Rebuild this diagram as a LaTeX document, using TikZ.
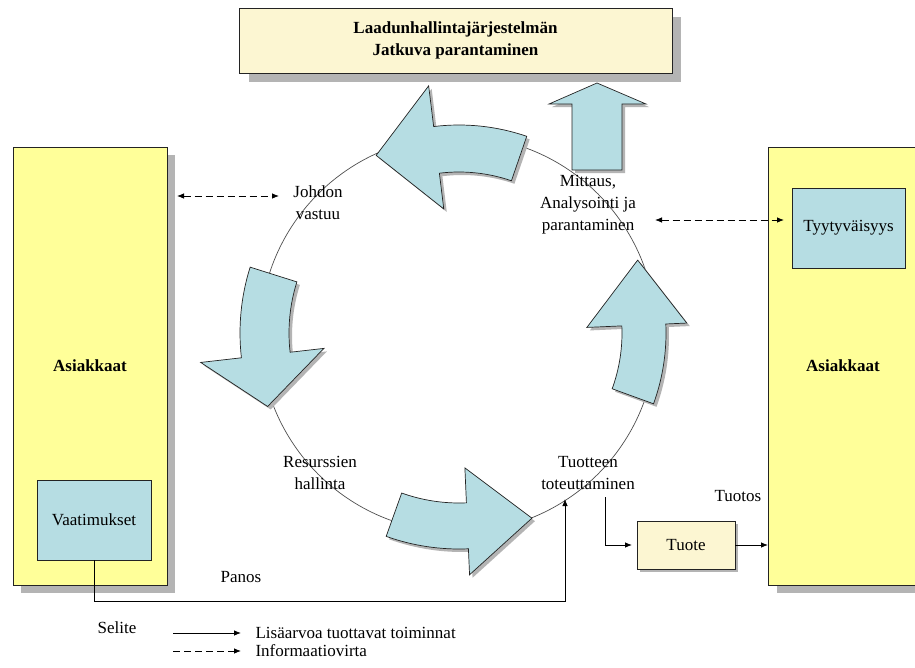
\documentclass[tikz,border=0pt]{standalone}
\usepackage{fontspec}
\setmainfont{Liberation Serif}
\usetikzlibrary{arrows.meta}
\definecolor{yel}{RGB}{255,255,153}
\definecolor{cream}{RGB}{252,246,210}
\definecolor{lblue}{RGB}{182,221,227}
\definecolor{shgray}{RGB}{180,180,180}
\definecolor{edgec}{RGB}{35,35,35}
% curved block arrow: tail angle, base angle, tip angle, r_in, r_out, wing in, wing out, tip radius
\newcommand\arcarrow[8]{%
  \fill[shgray,shift={(3,-3)}] (#1:#5) arc[start angle=#1,end angle=#2,radius=#5] -- (#2:#7) -- (#3:#8) -- (#2:#6) -- (#2:#4) arc[start angle=#2,end angle=#1,radius=#4] -- cycle;
  \draw[blockarrow] (#1:#5) arc[start angle=#1,end angle=#2,radius=#5] -- (#2:#7) -- (#3:#8) -- (#2:#6) -- (#2:#4) arc[start angle=#2,end angle=#1,radius=#4] -- cycle;}
\begin{document}
\begin{tikzpicture}[x=1pt,y=-1pt,
  font=\fontsize{17}{22}\selectfont,
  box/.style={draw=edgec,line width=0.8pt,inner sep=0pt,outer sep=0pt},
  blockarrow/.style={draw=edgec,fill=lblue,line width=0.7pt,line join=miter},
  conn/.style={line width=0.8pt,-{Latex[length=7pt,width=5.5pt]}},
  info/.style={line width=0.8pt,dash pattern=on 7pt off 4pt,{Latex[length=7pt,width=5.5pt]}-{Latex[length=7pt,width=5.5pt]}},
  shadowbox/.style={fill=shgray,draw=none}]
\useasboundingbox (0,0) rectangle (915,667);
\clip (0,0) rectangle (915,667);
\fill[white] (0,0) rectangle (915,667);

% shadows of boxes
\fill[shadowbox] (249,17) rectangle (681,82);
\fill[shadowbox] (21,155) rectangle (175,593);
\fill[shadowbox] (777,155) rectangle (930,593);
\fill[shadowbox] (640,524) rectangle (738,572);

% boxes
\node[box,fill=cream,minimum width=433pt,minimum height=65pt,align=center] (top) at (455.5,40.5)
  {\textbf{Laadunhallintajärjestelmän}\\\textbf{Jatkuva parantaminen}};
\node[box,fill=yel,minimum width=154pt,minimum height=438pt] (asL) at (90,366) {\textbf{Asiakkaat}};
\node[box,fill=yel,minimum width=150pt,minimum height=438pt] (asR) at (843,366) {\textbf{Asiakkaat}};
\node[box,fill=lblue,minimum width=114pt,minimum height=80pt] (vaat) at (94,520) {Vaatimukset};
\node[box,fill=lblue,minimum width=113pt,minimum height=80pt] (tyyt) at (848.5,228) {Tyytyväisyys};
\node[box,fill=cream,minimum width=98pt,minimum height=48pt] (tuote) at (686,545) {Tuote};

% circle
\coordinate (C) at (458,334);
\draw[edgec!80,line width=0.7pt] (C) circle[radius=198];

% curved arrows
\begin{scope}[shift={(459,333)},yscale=-1]
  \arcarrow{71}{97}{115}{161}{208}{125}{249}{196}
  \arcarrow{162.5}{186.5}{201}{170}{219}{136}{260}{205}
  \arcarrow{250.3}{272.5}{291.5}{170}{216}{135}{242}{199}
  \arcarrow{-20}{2.5}{22.2}{163}{207}{128}{228}{193}
\end{scope}

% straight up arrow
\fill[shgray,shift={(3,3)}] (597,83) -- (646,104) -- (622,104) -- (622,170) -- (572,170) -- (572,104) -- (549,104) -- cycle;
\draw[blockarrow] (597,83) -- (646,104) -- (622,104) -- (622,170) -- (572,170) -- (572,104) -- (549,104) -- cycle;

% process labels
\node[align=center] (johdon) at (318,203) {Johdon\\vastuu};
\node[align=center] (mitt) at (588,205) {Mittaus,\\Analysointi ja\\parantaminen};
\node[align=center] (res) at (320,473) {Resurssien\\hallinta};
\node[align=center] (tuot) at (588,473) {Tuotteen\\toteuttaminen};
\node (tuotos) at (738,496) {Tuotos};
\node (panos) at (241,577) {Panos};

% connectors
\coordinate (pin) at (565,499);
\coordinate (bot) at (565,601);
\coordinate (tt) at (605,497);
\coordinate (dl1) at (177,196);
\coordinate (dl2) at (279,196);
\coordinate (dr1) at (655,220);
\coordinate (dr2) at (784,220);
\draw[conn] (vaat.south) |- (bot) -- (pin);
\draw[conn,shorten >=5pt] (tt) |- (tuote.west);
\draw[conn] (tuote.east) -- (tuote.east -| asR.west);
\draw[info] (dl1) -- (dl2);
\draw[info] (dr1) -- (dr2);

% legend
\node (selite) at (117,628) {Selite};
\coordinate (l1a) at (173,633);
\coordinate (l1b) at (241,633);
\coordinate (l2a) at (173,651);
\coordinate (l2b) at (241,651);
\draw[conn] (l1a) -- (l1b);
\draw[line width=0.8pt,dash pattern=on 7pt off 4pt,-{Latex[length=7pt,width=5.5pt]}] (l2a) -- (l2b);
\node[anchor=west] (leg1) at (252,633) {Lisäarvoa tuottavat toiminnat};
\node[anchor=west] (leg2) at (252,651) {Informaatiovirta};
\end{tikzpicture}
\end{document}
